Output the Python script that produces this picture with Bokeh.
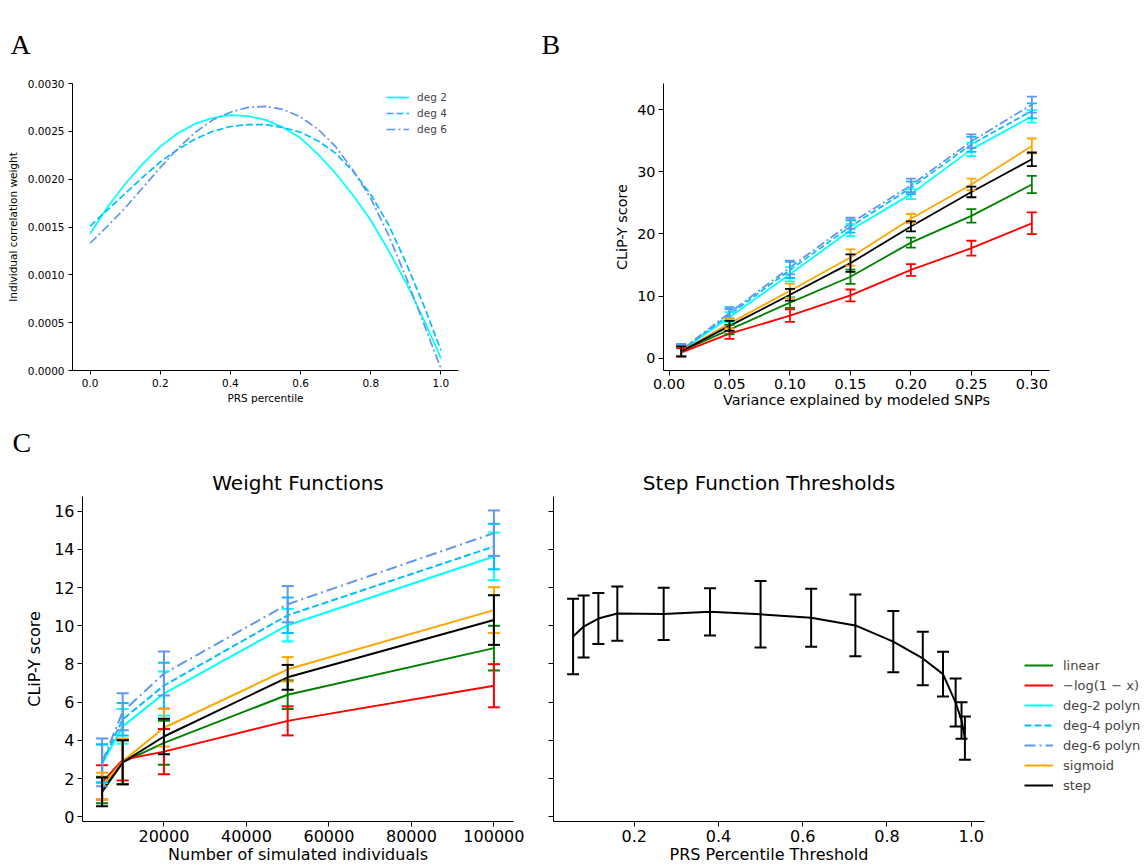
from bokeh.plotting import figure
from bokeh.models import (Range1d, Whisker, TeeHead, ColumnDataSource, Legend,
                          LegendItem, Title, FixedTicker, PrintfTickFormatter)
from bokeh.layouts import row, column
from bokeh.embed import file_html
from bokeh.resources import INLINE

FONT = "DejaVu Sans"
SERIF = "Liberation Serif"
NAN = float("nan")

# ---------------- Panel A data ----------------
prs_percentile = [0.00, 0.05, 0.10, 0.15, 0.20, 0.25, 0.30, 0.35, 0.40, 0.45, 0.50,
                  0.55, 0.60, 0.65, 0.70, 0.75, 0.80, 0.85, 0.90, 0.95, 1.00]
weight_deg2 = [0.00143, 0.00171, 0.00195, 0.00216, 0.00234, 0.00248, 0.00258, 0.00264,
               0.00267, 0.00266, 0.00262, 0.00254, 0.00243, 0.00226, 0.00206, 0.00183,
               0.00157, 0.00126, 0.00092, 0.00054, 0.00013]
weight_deg4 = [0.00151, 0.00168, 0.00185, 0.00202, 0.00218, 0.00231, 0.00242, 0.00250,
               0.00255, 0.00257, 0.00257, 0.00254, 0.00249, 0.00240, 0.00227, 0.00208,
               0.00184, 0.00153, 0.00113, 0.00069, 0.00021]
weight_deg6 = [0.00133, 0.00151, 0.00170, 0.00191, 0.00212, 0.00232, 0.00249, 0.00262,
               0.00270, 0.00275, 0.00276, 0.00273, 0.00265, 0.00252, 0.00234, 0.00209,
               0.00180, 0.00142, 0.00098, 0.00050, 0.00002]
a_labels = ["deg 2", "deg 4", "deg 6"]

# ---------------- Panel B data ----------------
variance_explained = [0.01, 0.05, 0.10, 0.15, 0.20, 0.25, 0.30]
b_linear = [1.1, 4.6, 8.95, 13.1, 18.6, 22.9, 27.95]
b_linear_err = [0.8, 0.75, 0.85, 1.15, 0.8, 1.1, 1.4]
b_log = [0.9, 3.95, 6.85, 10.1, 14.2, 17.7, 21.7]
b_log_err = [0.7, 0.85, 1.0, 0.95, 0.95, 1.2, 1.75]
b_deg2 = [1.2, 6.6, 13.5, 20.6, 26.4, 33.6, 38.9]
b_deg2_err = [0.9, 0.8, 1.15, 0.95, 0.8, 1.1, 1.0]
b_deg4 = [1.25, 7.0, 14.2, 21.2, 27.4, 34.4, 39.8]
b_deg4_err = [0.9, 0.9, 1.3, 1.0, 1.0, 1.2, 1.2]
b_deg6 = [1.3, 7.3, 14.6, 21.7, 27.8, 34.9, 40.8]
b_deg6_err = [1.0, 0.9, 1.1, 0.9, 1.1, 1.1, 1.3]
b_sigmoid = [1.1, 5.6, 10.85, 16.2, 22.45, 27.95, 34.15]
b_sigmoid_err = [0.8, 0.8, 1.15, 1.3, 0.75, 0.95, 1.2]
b_step = [1.1, 5.2, 10.2, 15.3, 21.2, 26.75, 32.0]
b_step_err = [0.8, 0.8, 0.95, 1.4, 0.8, 0.85, 1.1]

# ---------------- Panel C (left) data ----------------
n_individuals = [5000, 10000, 20000, 50000, 100000]
c_linear = [1.4, 2.85, 3.87, 6.39, 8.83]
c_linear_err = [0.7, 1.15, 1.15, 0.75, 1.17]
c_log = [1.8, 2.98, 3.41, 5.02, 6.86]
c_log_err = [0.9, 1.08, 1.18, 0.76, 1.13]
c_deg2 = [2.77, 4.73, 6.45, 10.03, 13.63]
c_deg2_err = [1.0, 0.91, 1.15, 0.85, 1.25]
c_deg4 = [2.8, 5.1, 6.87, 10.55, 14.15]
c_deg4_err = [1.0, 0.85, 1.2, 0.93, 1.19]
c_deg6 = [2.85, 5.5, 7.5, 11.13, 14.85]
c_deg6_err = [1.25, 0.97, 1.15, 0.95, 1.19]
c_sigmoid = [1.6, 2.9, 4.66, 7.72, 10.82]
c_sigmoid_err = [0.7, 1.2, 0.98, 0.64, 1.2]
c_step = [1.3, 2.85, 4.2, 7.3, 10.3]
c_step_err = [0.75, 1.15, 0.93, 0.65, 1.3]

# ---------------- Panel C (right) data ----------------
prs_threshold = [0.055, 0.08, 0.115, 0.16, 0.27, 0.38, 0.50, 0.62, 0.725, 0.815,
                 0.885, 0.933, 0.963, 0.977, 0.985]
threshold_score = [9.44, 9.96, 10.38, 10.64, 10.62, 10.73, 10.6, 10.42, 10.02, 9.17,
                   8.29, 7.47, 5.98, 5.04, 4.12]
threshold_err = [1.98, 1.62, 1.33, 1.42, 1.37, 1.24, 1.74, 1.52, 1.62, 1.6,
                 1.4, 1.17, 1.26, 0.96, 1.13]

series_names = ["linear", "\u2212log(1 \u2212 x)", "deg-2 polyn", "deg-4 polyn",
                "deg-6 polyn", "sigmoid", "step"]
series_colors = ["#008000", "#ff0000", "#00ffff", "#00bfff", "#6495ed", "#ffa500", "#000000"]
series_dash_c = ["solid", "solid", "solid", "7 3", "11 4 2 4", "solid", "solid"]
series_dash_b = ["solid", "solid", "solid", "6 3", "9 3 2 3", "solid", "solid"]


def style(p, tick_size, label_size, tick_out, lab_standoff, xlab_standoff, ylab_standoff):
    p.outline_line_color = None
    p.xgrid.visible = False
    p.ygrid.visible = False
    p.background_fill_color = "white"
    p.border_fill_color = "white"
    for ax in p.xaxis + p.yaxis:
        ax.axis_line_color = "black"
        ax.axis_line_width = 1
        ax.major_tick_line_color = "black"
        ax.major_tick_line_width = 1
        ax.major_tick_out = tick_out
        ax.major_tick_in = 0
        ax.minor_tick_line_color = None
        ax.major_label_text_font = FONT
        ax.major_label_text_font_size = tick_size
        ax.major_label_text_color = "black"
        ax.major_label_standoff = lab_standoff
        ax.axis_label_text_font = FONT
        ax.axis_label_text_font_size = label_size
        ax.axis_label_text_font_style = "normal"
        ax.axis_label_text_color = "black"
    p.xaxis.axis_label_standoff = xlab_standoff
    p.yaxis.axis_label_standoff = ylab_standoff


def add_err(p, x, y, e, color, lw, cap):
    src = ColumnDataSource(dict(x=x, lo=[a - b for a, b in zip(y, e)],
                                hi=[a + b for a, b in zip(y, e)]))
    w = Whisker(source=src, base="x", lower="lo", upper="hi", line_color=color,
                line_width=lw, level="glyph",
                upper_head=TeeHead(size=cap, line_color=color, line_width=lw),
                lower_head=TeeHead(size=cap, line_color=color, line_width=lw))
    p.add_layout(w)


def add_title(p, text, font, size, align, offset, standoff):
    p.add_layout(Title(text=text, align=align, offset=offset, standoff=standoff,
                       text_font=font, text_font_size=size, text_font_style="normal",
                       text_color="black"), "above")


# ================= Panel A =================
pA = figure(frame_width=386, frame_height=287, min_border_left=72, min_border_right=82,
            min_border_top=83, min_border_bottom=45, title=None,
            x_range=Range1d(-0.05, 1.05), y_range=Range1d(0, 0.003),
            toolbar_location=None, output_backend="svg")
style(pA, "10.5px", "10.5px", 4, 4, 2, 6)
pA.xaxis.axis_label = "PRS percentile"
pA.yaxis.axis_label = "Individual correlation weight"
pA.xaxis.ticker = FixedTicker(ticks=[0, 0.2, 0.4, 0.6, 0.8, 1.0])
pA.yaxis.ticker = FixedTicker(ticks=[0, 0.0005, 0.001, 0.0015, 0.002, 0.0025, 0.003])
pA.xaxis.formatter = PrintfTickFormatter(format="%.1f")
pA.yaxis.formatter = PrintfTickFormatter(format="%.4f")
rA2 = pA.line(prs_percentile, weight_deg2, line_color="#00ffff", line_width=1.7)
rA4 = pA.line(prs_percentile, weight_deg4, line_color="#00bfff", line_width=1.7, line_dash="7 3")
rA6 = pA.line(prs_percentile, weight_deg6, line_color="#6495ed", line_width=1.7, line_dash="9 3 2 3")
legA = Legend(items=[LegendItem(label=a_labels[0], renderers=[rA2]),
                     LegendItem(label=a_labels[1], renderers=[rA4]),
                     LegendItem(label=a_labels[2], renderers=[rA6])],
              location=(314, 233), label_text_font=FONT, label_text_font_size="10.5px",
              glyph_width=23, glyph_height=16, label_height=16, label_standoff=8,
              spacing=0, padding=4, margin=0, border_line_color=None,
              background_fill_alpha=0)
pA.add_layout(legA)
add_title(pA, "A", SERIF, "28px", "left", -62, 48)

# ================= Panel B =================
pB = figure(frame_width=386, frame_height=287, min_border_left=123, min_border_right=99,
            min_border_top=83, min_border_bottom=45, title=None,
            x_range=Range1d(-0.0046, 0.3146), y_range=Range1d(-1.98, 44.2),
            toolbar_location=None, output_backend="svg")
style(pB, "14.4px", "14.4px", 5, 3, 0, 4)
pB.xaxis.axis_label = "Variance explained by modeled SNPs"
pB.yaxis.axis_label = "CLiP-Y score"
pB.xaxis.ticker = FixedTicker(ticks=[0, 0.05, 0.10, 0.15, 0.20, 0.25, 0.30])
pB.yaxis.ticker = FixedTicker(ticks=[0, 10, 20, 30, 40])
pB.xaxis.formatter = PrintfTickFormatter(format="%.2f")
pB.yaxis.formatter = PrintfTickFormatter(format="%d")
b_vals = [b_linear, b_log, b_deg2, b_deg4, b_deg6, b_sigmoid, b_step]
b_errs = [b_linear_err, b_log_err, b_deg2_err, b_deg4_err, b_deg6_err, b_sigmoid_err, b_step_err]
for vals, errs, col, dash in zip(b_vals, b_errs, series_colors, series_dash_b):
    pB.line(variance_explained, vals, line_color=col, line_width=1.8, line_dash=dash)
    add_err(pB, variance_explained, vals, errs, col, 1.8, 10)
add_title(pB, "B", SERIF, "28px", "left", -122, 48)

# ================= Panel C left =================
yC = Range1d(-0.25, 16.77)
pC1 = figure(frame_width=431, frame_height=325, min_border_left=82, min_border_right=17,
             min_border_top=80, min_border_bottom=46, title=None,
             x_range=Range1d(250, 104750), y_range=yC,
             toolbar_location=None, output_backend="svg")
style(pC1, "16px", "16px", 5, 3, 0, 7)
add_title(pC1, "Weight Functions", FONT, "20px", "center", 0, 4)
add_title(pC1, "C", SERIF, "28px", "left", -70, 18)
pC1.xaxis.axis_label = "Number of simulated individuals"
pC1.yaxis.axis_label = "CLiP-Y score"
pC1.xaxis.ticker = FixedTicker(ticks=[20000, 40000, 60000, 80000, 100000])
pC1.yaxis.ticker = FixedTicker(ticks=[0, 2, 4, 6, 8, 10, 12, 14, 16])
pC1.xaxis.formatter = PrintfTickFormatter(format="%d")
pC1.yaxis.formatter = PrintfTickFormatter(format="%d")
c_vals = [c_linear, c_log, c_deg2, c_deg4, c_deg6, c_sigmoid, c_step]
c_errs = [c_linear_err, c_log_err, c_deg2_err, c_deg4_err, c_deg6_err, c_sigmoid_err, c_step_err]
for vals, errs, col, dash in zip(c_vals, c_errs, series_colors, series_dash_c):
    pC1.line(n_individuals, vals, line_color=col, line_width=2, line_dash=dash)
    add_err(pC1, n_individuals, vals, errs, col, 2, 12)

# ================= Panel C right =================
pC2 = figure(frame_width=431, frame_height=325, min_border_left=23, min_border_right=164,
             min_border_top=80, min_border_bottom=46, title=None,
             x_range=Range1d(0.0085, 1.0315), y_range=yC,
             toolbar_location=None, output_backend="svg")
style(pC2, "16px", "16px", 5, 3, 0, 0)
add_title(pC2, "Step Function Thresholds", FONT, "20px", "center", 0, 4)
pC2.xaxis.axis_label = "PRS Percentile Threshold"
pC2.xaxis.ticker = FixedTicker(ticks=[0.2, 0.4, 0.6, 0.8, 1.0])
pC2.xaxis.formatter = PrintfTickFormatter(format="%.1f")
c2_yticks = [0, 2, 4, 6, 8, 10, 12, 14, 16]
pC2.yaxis.ticker = FixedTicker(ticks=c2_yticks)
pC2.yaxis.major_label_overrides = {t: "" for t in c2_yticks}
pC2.yaxis.major_label_standoff = 0
pC2.line(prs_threshold, threshold_score, line_color="black", line_width=2)
add_err(pC2, prs_threshold, threshold_score, threshold_err, "black", 2, 12)

# legend samples: one undrawable (NaN) point per series, so only the key shows
items = []
for name, col, dash in zip(series_names, series_colors, series_dash_c):
    r = pC2.line(x=[NAN, NAN], y=[NAN, NAN], line_color=col, line_width=2, line_dash=dash)
    items.append(LegendItem(label=name, renderers=[r], index=0))
legC = Legend(items=items, location=(40, 26), label_text_font=FONT,
              label_text_font_size="13px", glyph_width=29, glyph_height=20,
              label_height=20, label_standoff=10, spacing=0, padding=0, margin=0,
              border_line_color=None, background_fill_alpha=0)
pC2.add_layout(legC, "right")

layout = column(row(pA, pB), row(pC1, pC2))
open("out.html", "w").write(file_html(layout, INLINE))
